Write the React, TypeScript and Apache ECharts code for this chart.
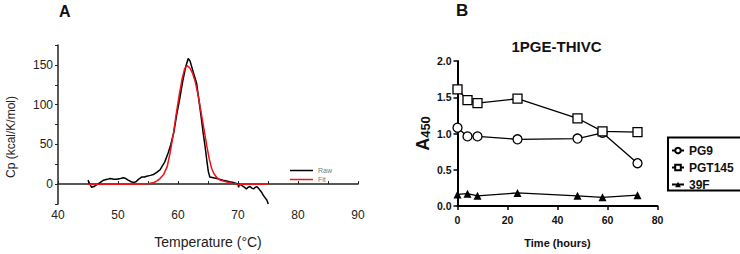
import React, { useEffect, useRef } from "react";
import * as echarts from "echarts";

// Panel A: DSC thermogram (temperature °C, Cp kcal/K/mol)
const rawCurve: [number, number][] = [
  [45, 5], [45.3, 0], [45.6, -4], [46, -3], [46.4, -1], [47, 2], [47.6, 5], [48.2, 6], [48.7, 7],
  [49.3, 6], [49.8, 6], [50.4, 7], [50.9, 8], [51.3, 7], [51.7, 5], [52.2, 3], [52.6, 2], [53, 3],
  [53.4, 6], [54, 9], [54.4, 9], [54.8, 10], [55.4, 11], [55.9, 12], [56.5, 15], [57, 18],
  [57.4, 23], [57.8, 28], [58.4, 40], [58.8, 50], [59.3, 65], [59.8, 88], [60.3, 108],
  [60.8, 130], [61.3, 148], [61.7, 158], [62, 155], [62.5, 142], [63.1, 127], [63.8, 88],
  [64.2, 64], [64.5, 48], [64.8, 30], [65.05, 16], [65.3, 9], [65.9, 8], [66.5, 7], [67, 6],
  [67.5, 5], [68.1, 4], [68.6, 3], [69.2, 2], [69.6, 1], [70, 0], [70.1, -4], [70.2, 0],
  [70.5, -1], [70.9, -3], [71.4, -6], [71.7, -4], [72, -3], [72.3, -5], [72.6, -6], [72.9, -4],
  [73.1, -3], [73.4, -5], [73.7, -8], [74, -11], [74.2, -14], [74.5, -17], [74.8, -20], [75.05, -25],
];
const fitCurve: [number, number][] = [
  [45, 0], [50, 0], [54, 0], [55, 0.5], [56, 2], [56.5, 4], [57, 7], [57.6, 12], [58.2, 22],
  [58.7, 40], [59.2, 62], [59.7, 88], [60.2, 112], [60.7, 133], [61.1, 145], [61.5, 149],
  [61.9, 147], [62.4, 140], [62.9, 128], [63.4, 110], [63.9, 88], [64.4, 66], [64.8, 48],
  [65.2, 32], [65.6, 20], [66, 13], [66.5, 8], [67, 5], [68, 3], [69, 1], [70, 0], [75, 0],
];

// Panel B: ELISA binding over time
const hours = [0, 4, 8, 24, 48, 58, 72];
const pg9 = [1.08, 0.96, 0.96, 0.92, 0.93, 1.01, 0.59];
const pgt145 = [1.61, 1.46, 1.42, 1.48, 1.21, 1.03, 1.02];
const f39 = [0.16, 0.17, 0.14, 0.18, 0.14, 0.12, 0.15];

const FONT = "Liberation Sans, Arial, sans-serif";

export default function App() {
  const ref = useRef<HTMLDivElement>(null);
  useEffect(() => {
    document.body.style.margin = "0";
    if (!ref.current) return;
    const chart = echarts.init(ref.current, null, { renderer: "svg" });
    const pair = (arr: number[]) => hours.map((h, i) => [h, arr[i]]);
    chart.setOption({
      animation: false,
      backgroundColor: "#fff",
      textStyle: { fontFamily: FONT },
      grid: [
        { left: 58, top: 45, width: 300, height: 165 },
        { left: 457.5, top: 61, width: 200, height: 145 },
      ],
      xAxis: [
        {
          gridIndex: 0, type: "value", min: 40, max: 90, interval: 5,
          name: "Temperature (°C)", nameLocation: "middle", nameGap: 31,
          nameTextStyle: { fontSize: 14, color: "#222", fontFamily: FONT },
          axisLine: { lineStyle: { color: "#222", width: 1.5 } },
          axisTick: { inside: true, length: 3, lineStyle: { color: "#222" } },
          axisLabel: {
            fontSize: 12, color: "#222", margin: 5,
            formatter: (v: number) => (v % 10 === 0 ? String(v) : ""),
          },
          splitLine: { show: false },
        },
        {
          gridIndex: 1, type: "value", min: 0, max: 80, interval: 20,
          name: "Time (hours)", nameLocation: "middle", nameGap: 31,
          nameTextStyle: { fontSize: 11, fontWeight: "bold", color: "#111", fontFamily: FONT },
          axisLine: { lineStyle: { color: "#000", width: 2 } },
          axisTick: { length: 4, lineStyle: { color: "#000", width: 1.5 } },
          axisLabel: { fontSize: 10.5, fontWeight: "bold", color: "#111", margin: 8 },
          splitLine: { show: false },
        },
      ],
      yAxis: [
        {
          gridIndex: 0, type: "value", min: -25, max: 175, interval: 25,
          axisLine: { show: true, lineStyle: { color: "#222", width: 1.5 } },
          axisTick: { show: true, length: 3, lineStyle: { color: "#222" } },
          axisLabel: {
            fontSize: 12, color: "#222", margin: 5,
            formatter: (v: number) => (v % 50 === 0 ? String(v) : ""),
          },
          splitLine: { show: false },
        },
        {
          gridIndex: 1, type: "value", min: 0, max: 2, interval: 0.5,
          name: "{a|A}{b|450}", nameLocation: "middle", nameGap: 26, nameRotate: 90,
          nameTextStyle: {
            rich: {
              a: { fontSize: 18, fontWeight: "bold", color: "#111", fontFamily: FONT },
              b: { fontSize: 13, fontWeight: "bold", color: "#111", fontFamily: FONT, verticalAlign: "bottom" },
            },
          },
          axisLine: { show: true, lineStyle: { color: "#000", width: 2 } },
          axisTick: { show: true, length: 4, lineStyle: { color: "#000", width: 1.5 } },
          axisLabel: {
            fontSize: 10.5, fontWeight: "bold", color: "#111", margin: 6,
            formatter: (v: number) => v.toFixed(1),
          },
          splitLine: { show: false },
        },
      ],
      legend: [
        {
          data: ["Raw", "Fit"], orient: "vertical", left: 290, top: 167,
          icon: "rect", itemWidth: 23, itemHeight: 1.5, itemGap: 2, padding: 0,
          textStyle: { fontSize: 7, color: "#777", fontFamily: FONT },
        },
        {
          data: ["PG9", "PGT145", "39F"], orient: "vertical", left: 668, top: 137.5,
          itemWidth: 12, itemHeight: 7, itemGap: 5, padding: [7, 8, 0, 3],
          borderColor: "#000", borderWidth: 2, backgroundColor: "#fff",
          textStyle: { fontSize: 12, fontWeight: "bold", color: "#111", fontFamily: FONT },
        },
      ],
      series: [
        {
          name: "Raw", type: "line", xAxisIndex: 0, yAxisIndex: 0, data: rawCurve,
          showSymbol: false, symbol: "none", color: "#000",
          lineStyle: { color: "#000", width: 1.5 },
        },
        {
          name: "Fit", type: "line", xAxisIndex: 0, yAxisIndex: 0, data: fitCurve,
          showSymbol: false, symbol: "none", color: "#e8141a",
          lineStyle: { color: "#e8141a", width: 1.5 },
        },
        {
          name: "PG9", type: "line", xAxisIndex: 1, yAxisIndex: 1, data: pair(pg9),
          symbol: "circle", symbolSize: 9,
          itemStyle: { color: "#fff", borderColor: "#000", borderWidth: 1.3 },
          lineStyle: { color: "#000", width: 1.3 },
        },
        {
          name: "PGT145", type: "line", xAxisIndex: 1, yAxisIndex: 1, data: pair(pgt145),
          symbol: "rect", symbolSize: 9,
          itemStyle: { color: "#fff", borderColor: "#000", borderWidth: 1.3 },
          lineStyle: { color: "#000", width: 1.3 },
        },
        {
          name: "39F", type: "line", xAxisIndex: 1, yAxisIndex: 1, data: pair(f39),
          symbol: "triangle", symbolSize: 8,
          itemStyle: { color: "#000" },
          lineStyle: { color: "#000", width: 1.3 },
        },
      ],
      graphic: [
        {
          type: "text", x: 59, y: 11,
          style: { text: "A", font: `bold 16px ${FONT}`, fill: "#111", textVerticalAlign: "middle" },
        },
        {
          type: "text", x: 456, y: 10,
          style: { text: "B", font: `bold 17px ${FONT}`, fill: "#111", textVerticalAlign: "middle" },
        },
        {
          type: "text", x: 556.5, y: 46,
          style: {
            text: "1PGE-THIVC", font: `bold 15px ${FONT}`, fill: "#111",
            textAlign: "center", textVerticalAlign: "middle",
          },
        },
        {
          type: "text", x: 11, y: 137, rotation: Math.PI / 2,
          style: {
            text: "Cp (kcal/K/mol)", font: `12px ${FONT}`, fill: "#222",
            textAlign: "center", textVerticalAlign: "middle",
          },
        },
      ],
    });
    return () => chart.dispose();
  }, []);
  return <div ref={ref} style={{ width: 740, height: 254 }} />;
}
